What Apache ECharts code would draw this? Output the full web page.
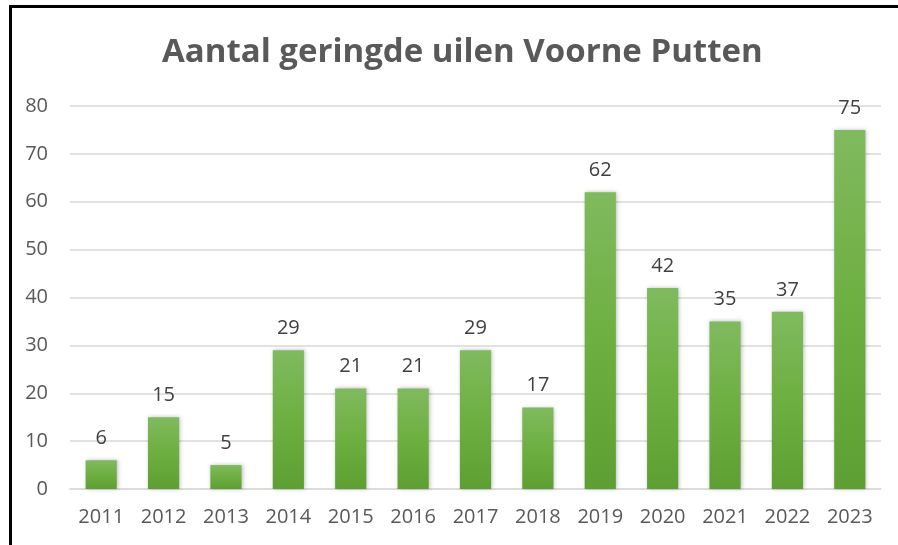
<!DOCTYPE html>
<html>
<head>
<meta charset="utf-8">
<script src="https://cdn.jsdelivr.net/npm/echarts@6/dist/echarts.min.js"></script>
<style>
  html, body { margin: 0; padding: 0; background: #fff; }
  #frame {
    position: absolute; left: 9px; top: 5px; width: 900px; height: 560px;
    border-left: 3px solid #000; border-top: 3px solid #000;
  }
  #chart { position: absolute; left: 0; top: 0; width: 898px; height: 545px; }
</style>
</head>
<body>
<div id="frame"></div>
<div id="chart"></div>
<script>
const years = ['2011', '2012', '2013', '2014', '2015', '2016', '2017', '2018', '2019', '2020', '2021', '2022', '2023'];
const owls = [6, 15, 5, 29, 21, 21, 29, 17, 62, 42, 35, 37, 75];

const chart = echarts.init(document.getElementById('chart'));

const option = {
  animation: false,
  title: {
    text: 'Aantal geringde uilen Voorne Putten',
    left: 157,
    top: 31,
    textStyle: {
      color: '#595959',
      fontSize: 33,
      fontWeight: 'bold',
      fontFamily: 'Open Sans'
    }
  },
  grid: { left: 70, right: 17, top: 106, bottom: 56 },
  xAxis: {
    type: 'category',
    data: years,
    axisLine: { lineStyle: { color: '#d9d9d9', width: 1.5 } },
    axisTick: { show: false },
    axisLabel: { color: '#595959', fontSize: 20, fontFamily: 'Open Sans', margin: 18 }
  },
  yAxis: {
    type: 'value',
    min: 0,
    max: 80,
    interval: 10,
    axisLine: { show: false },
    axisTick: { show: false },
    axisLabel: { color: '#595959', fontSize: 20, fontFamily: 'Open Sans', margin: 22 },
    splitLine: { lineStyle: { color: '#d9d9d9', width: 1.5 } }
  },
  series: [
    {
      type: 'bar',
      data: owls,
      barWidth: '50%',
      itemStyle: {
        color: new echarts.graphic.LinearGradient(0, 0, 0, 1, [
          { offset: 0, color: '#80ba5f' },
          { offset: 0.5, color: '#6daf40' },
          { offset: 1, color: '#5e9f33' }
        ]),
        shadowColor: 'rgba(0,0,0,0.25)',
        shadowBlur: 4,
        shadowOffsetX: 1
      },
      label: {
        show: true,
        position: 'top',
        distance: 12,
        color: '#404040',
        fontSize: 20,
        fontFamily: 'Open Sans'
      }
    }
  ]
};

chart.setOption(option);
</script>
</body>
</html>
